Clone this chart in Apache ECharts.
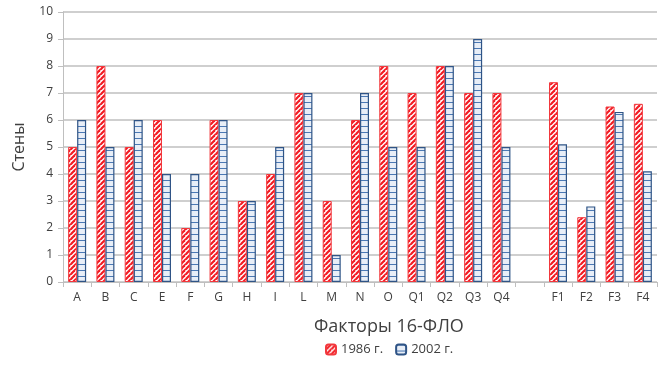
<!DOCTYPE html>
<html><head><meta charset="utf-8">
<script src="https://cdn.jsdelivr.net/npm/echarts@6/dist/echarts.min.js"></script>
<style>html,body{margin:0;padding:0;background:#fff}#c{width:661px;height:365px}</style>
</head><body><div id="c"></div>
<script>
var categories = ['A','B','C','E','F','G','H','I','L','M','N','O','Q1','Q2','Q3','Q4','','F1','F2','F3','F4'];
var s1986 = [5,8,5,6,2,6,3,4,7,3,6,8,7,8,7,7,null,7.4,2.4,6.5,6.6];
var s2002 = [6,5,6,4,4,6,3,5,7,1,7,5,5,8,9,5,null,5.1,2.8,6.3,4.1];
var yTicks = [0,1,2,3,4,5,6,7,8,9,10];
var xTitle = 'Факторы 16-ФЛО';

function redPattern(){
  var n=5;
  var c=document.createElement('canvas');c.width=n;c.height=n;
  var g=c.getContext('2d');
  g.fillStyle='#ffffff';g.fillRect(0,0,n,n);
  g.strokeStyle='#f31c24';g.lineWidth=2.2;
  for(var k=-1;k<=2;k++){
    g.beginPath();g.moveTo(k*n-n,n+n);g.lineTo(k*n+n,-n+n);g.stroke();
  }
  return c;
}
function bluePattern(){
  var c=document.createElement('canvas');c.width=4;c.height=6;
  var g=c.getContext('2d');
  g.fillStyle='#e8eef7';g.fillRect(0,0,4,6);
  g.fillStyle='#4a78b4';g.fillRect(0,0,4,1);
  return c;
}
var chart = echarts.init(document.getElementById('c'));
chart.setOption({
  animation:false,
  title:{text:xTitle,left:314,top:318,padding:0,
    textStyle:{fontFamily:'Open Sans',fontSize:18,fontWeight:'normal',color:'#404040'}},
  grid:{left:63,right:4,top:12,bottom:83},
  legend:{
    bottom:4,left:320,itemWidth:10,itemHeight:10,itemGap:12,
    textStyle:{fontFamily:'Open Sans',fontSize:13,color:'#404040'},
    data:['1986 г.','2002 г.']
  },
  xAxis:{
    type:'category',data:categories,
    axisLine:{lineStyle:{color:'#bfbfbf',width:1}},
    axisTick:{show:true,length:5,lineStyle:{color:'#bfbfbf'},interval:0},
    axisLabel:{interval:0,fontFamily:'Open Sans',fontSize:12,color:'#404040',margin:10}
  },
  yAxis:{
    type:'value',min:0,max:10,interval:1,
    name:'Стены',nameLocation:'middle',nameGap:36,nameRotate:90,
    nameTextStyle:{fontFamily:'Open Sans',fontSize:16,color:'#404040'},
    axisLine:{show:true,lineStyle:{color:'#bfbfbf',width:1}},
    axisTick:{show:true,length:5,lineStyle:{color:'#bfbfbf'}},
    splitLine:{lineStyle:{color:'#bfbfbf',width:1.5}},
    axisLabel:{fontFamily:'Open Sans',fontSize:12,color:'#404040',margin:10,
      formatter:function(v){return yTicks.indexOf(v)>=0?String(v):'';}}
  },
  series:[
    {name:'1986 г.',type:'bar',data:s1986,barWidth:9,barGap:'0%',
     itemStyle:{color:{image:redPattern(),repeat:'repeat'},borderColor:'#f2383d',borderWidth:1}},
    {name:'2002 г.',type:'bar',data:s2002,barWidth:9,barGap:'0%',
     itemStyle:{color:{image:bluePattern(),repeat:'repeat'},borderColor:'#2f5486',borderWidth:1.2}}
  ]
});
</script></body></html>
